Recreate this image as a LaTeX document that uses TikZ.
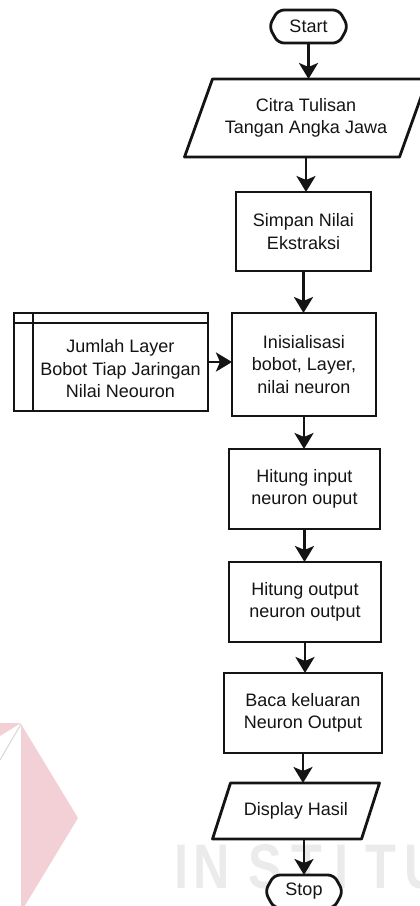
\documentclass[tikz,border=0pt]{standalone}
\usepackage{fontspec}
\setmainfont{Liberation Sans}
\usetikzlibrary{arrows.meta,backgrounds}
\definecolor{ink}{RGB}{20,20,20}
\definecolor{wmpink}{RGB}{242,208,214}
\definecolor{wmgray}{RGB}{235,235,235}
\definecolor{wmline}{RGB}{215,215,215}
\tikzset{
  every node/.style={font=\fontsize{18}{22.5}\selectfont, text=ink, align=center,
    inner sep=0pt, outer sep=0pt},
  proc/.style={draw=ink, fill=white, line width=2.8pt},
  outline/.style={draw=ink, fill=white, line width=2.8pt, line join=round},
  flow/.style={draw=ink, line width=2.8pt, -{Stealth[length=16pt,width=19pt,inset=4pt]}},
  wmletter/.style={font=\fontsize{63}{63}\selectfont\bfseries, text=wmgray, anchor=base}
}
\begin{document}
\begin{tikzpicture}[x=1pt,y=-1pt]
\useasboundingbox (0,0) rectangle (420,906);

% page ground and faint background mark
\begin{scope}[on background layer]
  \fill[white] (0,0) rectangle (420,906);
  \fill[wmpink] (21,724) -- (78,818) -- (21,912) -- cycle;
  \fill[wmpink] (0,723) -- (21,723) -- (0,736) -- cycle;
  \draw[wmline, line width=1pt] (21,724) -- (0,760);
  \node[wmletter] (wm1) at (181,888) {\scalebox{0.8}[1]{I}};
  \node[wmletter] (wm2) at (212,888) {\scalebox{0.8}[1]{N}};
  \node[wmletter] (wm3) at (265,888) {\scalebox{0.8}[1]{S}};
  \node[wmletter] (wm4) at (307,888) {\scalebox{0.8}[1]{T}};
  \node[wmletter] (wm5) at (341,888) {\scalebox{0.8}[1]{I}};
  \node[wmletter] (wm6) at (381,888) {\scalebox{0.8}[1]{T}};
  \node[wmletter] (wm7) at (423,888) {\scalebox{0.8}[1]{U}};
\end{scope}

% flowchart steps
\node[minimum width=79, minimum height=33] (start) at (308.5,26.5) {Start};
\node[minimum width=215, minimum height=78] (citra) at (306,118)
  {Citra Tulisan\\Tangan Angka Jawa};
\node[proc, minimum width=135, minimum height=79] (simpan) at (303.5,231.5)
  {Simpan Nilai\\Ekstraksi};
\node[proc, minimum width=144, minimum height=103] (inis) at (304,364.5)
  {Inisialisasi\\bobot, Layer,\\nilai neuron};
\node[proc, minimum width=194, minimum height=98] (data) at (111,362) {};
\node (datatext) at (120.5,369) {Jumlah Layer\\Bobot Tiap Jaringan\\Nilai Neouron};
\node[proc, minimum width=151, minimum height=80] (hin) at (304.5,489)
  {Hitung input\\neuron ouput};
\node[proc, minimum width=152, minimum height=80] (hout) at (305,602)
  {Hitung output\\neuron output};
\node[proc, minimum width=158, minimum height=80] (baca) at (303,713)
  {Baca keluaran\\Neuron Output};
\node[minimum width=149, minimum height=56] (disp) at (296,811) {Display Hasil};
\node[minimum width=78, minimum height=33] (stop) at (304,891.5) {Stop};

% outlines of the terminals and the input/output shapes
\begin{scope}[on background layer]
  \draw[outline, rounded corners=6pt]
    ([xshift=9pt]start.north west) -- ([xshift=-9pt]start.north east) -- (start.east)
    -- ([xshift=-9pt]start.south east) -- ([xshift=9pt]start.south west) -- (start.west) -- cycle;
  \draw[outline, rounded corners=6pt]
    ([xshift=9pt]stop.north west) -- ([xshift=-9pt]stop.north east) -- (stop.east)
    -- ([xshift=-9pt]stop.south east) -- ([xshift=9pt]stop.south west) -- (stop.west) -- cycle;
  \draw[outline]
    ([xshift=-14pt]citra.south west) -- ([xshift=-14pt]citra.south east)
    -- ([xshift=14pt]citra.north east) -- ([xshift=14pt]citra.north west) -- cycle;
  \draw[outline]
    ([xshift=-9pt]disp.south west) -- ([xshift=-9pt]disp.south east)
    -- ([xshift=9pt]disp.north east) -- ([xshift=9pt]disp.north west) -- cycle;
\end{scope}

% data store rules
\draw[proc] ([yshift=-10pt]data.north west) -- ([yshift=-10pt]data.north east);
\draw[proc] ([xshift=19pt]data.north west) -- ([xshift=19pt]data.south west);

% connectors
\draw[flow] (start.south) -- (start.south |- citra.north);
\draw[flow] (citra.south) -- (citra.south |- simpan.north);
\draw[flow] (simpan.south) -- (simpan.south |- inis.north);
\draw[flow] (data.east) -- (data.east -| inis.west);
\draw[flow] (inis.south) -- (inis.south |- hin.north);
\draw[flow] (hin.south) -- (hin.south |- hout.north);
\draw[flow] (hout.south) -- (hout.south |- baca.north);
\draw[flow] (baca.south) -- (baca.south |- disp.north);
\draw[flow] (stop.north |- disp.south) -- (stop.north);
\end{tikzpicture}
\end{document}
